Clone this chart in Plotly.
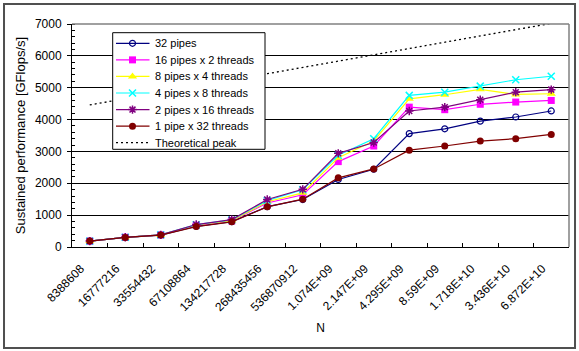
import plotly.graph_objects as go

categories = ["8388608", "16777216", "33554432", "67108864", "134217728", "268435456",
              "536870912", "1.074E+09", "2.147E+09", "4.295E+09", "8.59E+09",
              "1.718E+10", "3.436E+10", "6.872E+10"]

pipes32 = [185, 300, 375, 650, 795, 1265, 1490, 2120, 2440, 3560, 3710, 3950, 4080, 4270]
pipes16x2 = [185, 305, 380, 680, 820, 1380, 1640, 2680, 3170, 4390, 4310, 4480, 4550, 4600]
pipes8x4 = [185, 305, 380, 690, 830, 1420, 1700, 2800, 3330, 4650, 4780, 4950, 4790, 4810]
pipes4x8 = [185, 305, 380, 700, 850, 1460, 1800, 2880, 3400, 4760, 4860, 5050, 5250, 5360]
pipes2x16 = [185, 305, 380, 705, 860, 1490, 1810, 2940, 3280, 4270, 4390, 4620, 4860, 4940]
pipe1x32 = [185, 300, 375, 640, 790, 1260, 1500, 2170, 2450, 3040, 3170, 3325, 3400, 3535]
peak = [4460, 4650, 4850, 5050, 5240, 5440, 5640, 5840, 6030, 6230, 6430, 6620, 6820, 7020]

FONT = "Liberation Sans"

series = [
    ("32 pipes", pipes32, "#000080", dict(symbol="circle-open", size=6, line=dict(width=1.2, color="#000080"))),
    ("16 pipes x 2 threads", pipes16x2, "#FF00FF", dict(symbol="square", size=7)),
    ("8 pipes x 4 threads", pipes8x4, "#FFFF00", dict(symbol="triangle-up", size=8)),
    ("4 pipes x 8 threads", pipes4x8, "#00FFFF", dict(symbol="x-thin-open", size=7, line=dict(width=1.5, color="#00FFFF"))),
    ("2 pipes x 16 threads", pipes2x16, "#800080", dict(symbol="asterisk-open", size=7, line=dict(width=1.5, color="#800080"))),
    ("1 pipe x 32 threads", pipe1x32, "#800000", dict(symbol="circle", size=7)),
]

# plot area in pixels (for the hand-drawn legend on an overlay pixel axis)
PW, PH = 497, 223

fig = go.Figure()
for name, vals, color, marker in series:
    m = dict(color=color)
    m.update(marker)
    fig.add_trace(go.Scatter(x=categories, y=vals, name=name, mode="lines+markers",
                             line=dict(color=color, width=1.2), marker=m, showlegend=False))

fig.add_trace(go.Scatter(x=categories, y=peak, name="Theoretical peak", mode="lines",
                         line=dict(color="black", width=1.3, dash="2px,3px"), showlegend=False))

# ---- legend drawn on an overlay axis measured in plot pixels ----
LX0, LX1, LY0, LY1 = 40.7, 193, 8.7, 125.3
fig.add_trace(go.Scatter(x=[LX0, LX1, LX1, LX0, LX0], y=[LY0, LY0, LY1, LY1, LY0],
                         xaxis="x2", yaxis="y2", mode="lines", fill="toself",
                         fillcolor="white", line=dict(color="black", width=1),
                         hoverinfo="skip", showlegend=False))
row0, rowgap = 19.3, 16.57
annotations = []
entries = [(n, c, mk) for n, _, c, mk in series] + [("Theoretical peak", "black", None)]
for i, (name, color, marker) in enumerate(entries):
    yy = row0 + i * rowgap
    if marker is None:
        fig.add_trace(go.Scatter(x=[44, 77.5], y=[yy, yy], xaxis="x2", yaxis="y2", mode="lines",
                                 line=dict(color="black", width=1.3, dash="2px,3px"),
                                 hoverinfo="skip", showlegend=False))
    else:
        m = dict(color=color)
        m.update(marker)
        fig.add_trace(go.Scatter(x=[44, 77.5], y=[yy, yy], xaxis="x2", yaxis="y2", mode="lines",
                                 line=dict(color=color, width=1.2), hoverinfo="skip", showlegend=False))
        fig.add_trace(go.Scatter(x=[60.5], y=[yy], xaxis="x2", yaxis="y2", mode="markers",
                                 marker=m, hoverinfo="skip", showlegend=False))
    annotations.append(dict(x=81, y=yy, xref="x2", yref="y2", text=name, showarrow=False,
                            xanchor="left", yanchor="middle",
                            font=dict(family=FONT, size=11, color="black")))

fig.update_layout(
    width=579, height=351,
    margin=dict(l=72, r=10, t=24, b=104),
    paper_bgcolor="white", plot_bgcolor="white",
    font=dict(family=FONT, size=11, color="black"),
    showlegend=False,
    xaxis=dict(type="category", range=[-0.5, 13.5], showline=True, linecolor="black", linewidth=1,
               ticks="inside", tickson="boundaries", ticklen=4, tickcolor="black",
               tickangle=-45, tickfont=dict(size=12), showgrid=False, zeroline=False,
               ticklabelstandoff=9, ticklabelshift=-9,
               title=dict(text="N", font=dict(size=12), standoff=10)),
    yaxis=dict(range=[0, 7000], dtick=1000, showline=True, linecolor="black", linewidth=1,
               ticks="outside", ticklen=4, tickcolor="black", tickfont=dict(size=12),
               ticklabelstandoff=3,
               showgrid=True, gridcolor="black", gridwidth=1, zeroline=False,
               minor=dict(dtick=200, ticks="inside", ticklen=3, tickcolor="black", showgrid=False),
               title=dict(text="Sustained performance [GFlops/s]", font=dict(size=13), standoff=6)),
    xaxis2=dict(overlaying="x", anchor="y2", range=[0, PW], visible=False, fixedrange=True),
    yaxis2=dict(overlaying="y", anchor="x2", range=[PH, 0], visible=False, fixedrange=True),
    annotations=annotations,
    shapes=[
        dict(type="line", xref="paper", yref="paper", x0=0, x1=1, y0=1, y1=1,
             line=dict(color="#808080", width=1.5)),
        dict(type="line", xref="paper", yref="paper", x0=1, x1=1, y0=0, y1=1,
             line=dict(color="#808080", width=1.5)),
        dict(type="rect", xref="paper", yref="paper", x0=-0.1368, x1=1.0121, y0=-0.4529, y1=1.0897,
             line=dict(color="#505050", width=2), layer="above"),
    ],
)

fig.write_html("out.html", config={"displayModeBar": False},
               post_script="document.body.style.margin='0';document.body.style.overflow='hidden';")
